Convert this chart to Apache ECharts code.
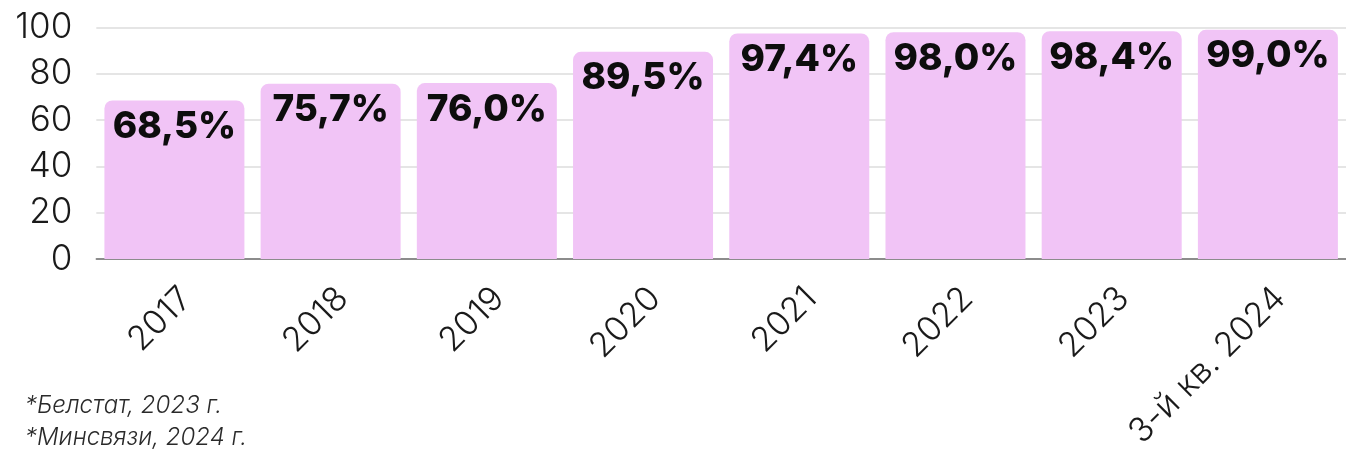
<!DOCTYPE html>
<html>
<head>
<meta charset="utf-8">
<script src="https://cdn.jsdelivr.net/npm/echarts@6/dist/echarts.min.js"></script>
<style>
  html, body { margin: 0; padding: 0; background: #ffffff; }
  #chart { width: 1346px; height: 465px; }
</style>
</head>
<body>
<div id="chart"></div>
<script>
// Internet share by period, percent
const periods = ['2017', '2018', '2019', '2020', '2021', '2022', '2023', '3-й кв. 2024'];
const shares = [68.5, 75.7, 76.0, 89.5, 97.4, 98.0, 98.4, 99.0];
const yTicks = [0, 20, 40, 60, 80, 100];
const sources = ['*Белстат, 2023 г.', '*Минсвязи, 2024 г.'];

const FONT = 'Inter, "Noto Sans", sans-serif';
const fmtPct = v => v.toFixed(1).replace('.', ',') + '%';

const chart = echarts.init(document.getElementById('chart'), null, { renderer: 'canvas' });

chart.setOption({
  backgroundColor: '#ffffff',
  animation: false,
  grid: { left: 96.3, top: 27.5, width: 1259.4, height: 231.5, containLabel: false },
  xAxis: {
    type: 'category',
    data: periods,
    axisTick: { show: false },
    axisLine: { show: true, lineStyle: { color: '#6f6f6f', width: 1.5 } },
    axisLabel: {
      rotate: 45,
      interval: 0,
      margin: 22,
      verticalAlign: 'top',
      fontFamily: FONT,
      fontWeight: 300,
      fontSize: 34,
      color: '#1a1a1a'
    }
  },
  yAxis: {
    type: 'value',
    min: yTicks[0],
    max: yTicks[yTicks.length - 1],
    interval: yTicks[1] - yTicks[0],
    axisLine: { show: false },
    axisTick: { show: false },
    splitLine: { show: true, lineStyle: { color: '#dcdcdc', width: 1.5 } },
    axisLabel: {
      margin: 24,
      fontFamily: FONT,
      fontWeight: 300,
      fontSize: 35,
      color: '#1a1a1a'
    }
  },
  series: [{
    type: 'bar',
    data: shares,
    barWidth: 140,
    itemStyle: { color: '#f1c4f6', borderRadius: [8, 8, 0, 0] },
    label: {
      show: true,
      position: 'insideTop',
      distance: 8,
      formatter: p => fmtPct(p.value),
      fontFamily: FONT,
      fontWeight: 800,
      fontSize: 37,
      color: '#0d0d0d'
    }
  }],
  graphic: sources.map((t, i) => ({
    type: 'text',
    left: 25,
    top: 394 + i * 32,
    style: {
      text: t,
      font: 'italic 300 24px ' + FONT,
      fill: '#2a2a2a'
    }
  }))
});
</script>
</body>
</html>
